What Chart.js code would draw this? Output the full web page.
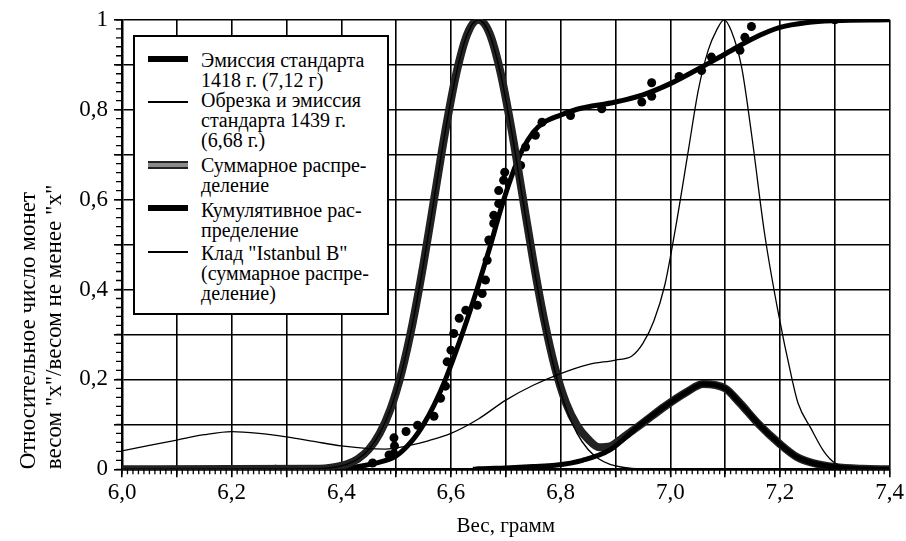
<!DOCTYPE html>
<html><head><meta charset="utf-8">
<script src="https://cdn.jsdelivr.net/npm/chart.js@4.4.1/dist/chart.umd.min.js"></script>
<style>
html,body{margin:0;padding:0;background:#fff;}
#wrap{position:relative;width:906px;height:541px;}
#legend{position:absolute;left:133px;top:35px;width:252px;height:276px;border:2px solid #000;background:#fff;font-family:"Liberation Serif","Tinos","Times New Roman","DejaVu Serif",serif;font-size:20px;line-height:20px;color:#000;}
.sw{position:absolute;left:13px;width:40px;}
.tx{position:absolute;left:66px;white-space:pre;}
</style></head>
<body><div id="wrap"><canvas id="c" width="906" height="541"></canvas><div id="legend"></div></div>
<script>
// ---- data ----
const legendLabels = [
  "Эмиссия стандарта\n1418 г. (7,12 г)",
  "Обрезка и эмиссия\nстандарта 1439 г.\n(6,68 г.)",
  "Суммарное распре-\nделение",
  "Кумулятивное рас-\nпределение",
  "Клад \"Istanbul B\"\n(суммарное распре-\nделение)"
];
const xTitle = "Вес, грамм";
const yTitle = ["Относительное число монет", "весом \"x\"/весом не менее \"x\""];

// Emission of standard 1418 (7,12 g)
const emis1418X = [6.64, 6.65, 6.70, 6.75, 6.79, 6.84, 6.89, 6.94, 6.99, 7.03, 7.06, 7.10, 7.125, 7.16, 7.20, 7.23, 7.26, 7.30, 7.35, 7.40];
const emis1418Y = [0, 0.001, 0.003, 0.006, 0.009, 0.02, 0.043, 0.094, 0.14, 0.172, 0.19, 0.18, 0.15, 0.102, 0.056, 0.028, 0.014, 0.005, 0.001, 0];

// Cut & emission of standard 1439 (6,68 g)
const emis1439X = [6.0, 6.35, 6.37, 6.39, 6.41, 6.43, 6.45, 6.47, 6.49, 6.51, 6.53, 6.55, 6.57, 6.59, 6.61, 6.63, 6.65, 6.67, 6.69, 6.71, 6.73, 6.75, 6.77, 6.79, 6.81, 6.83, 6.85, 6.87, 6.89, 6.91, 6.93, 6.95, 7.0, 7.4];
const emis1439Y = [0, 0.001, 0.002, 0.005, 0.011, 0.023, 0.044, 0.08, 0.135, 0.216, 0.325, 0.458, 0.607, 0.755, 0.882, 0.969, 1.0, 0.969, 0.882, 0.755, 0.607, 0.458, 0.325, 0.216, 0.135, 0.08, 0.044, 0.023, 0.011, 0.005, 0.002, 0.001, 0, 0];

// Summary distribution
const sumX = [6.0, 6.35, 6.37, 6.39, 6.41, 6.43, 6.45, 6.47, 6.49, 6.51, 6.53, 6.55, 6.57, 6.59, 6.61, 6.63, 6.65, 6.67, 6.69, 6.71, 6.73, 6.75, 6.77, 6.79, 6.81, 6.83, 6.85, 6.87, 6.89, 6.91, 6.93, 6.95, 6.99, 7.03, 7.06, 7.10, 7.125, 7.16, 7.20, 7.23, 7.26, 7.30, 7.35, 7.40];
const sumY = [0, 0.001, 0.002, 0.005, 0.011, 0.023, 0.044, 0.08, 0.135, 0.216, 0.325, 0.458, 0.607, 0.755, 0.882, 0.969, 1.0, 0.971, 0.885, 0.759, 0.612, 0.464, 0.332, 0.225, 0.147, 0.097, 0.067, 0.049, 0.051, 0.067, 0.085, 0.103, 0.14, 0.172, 0.19, 0.18, 0.15, 0.102, 0.056, 0.028, 0.014, 0.005, 0.001, 0];

// Cumulative distribution (fitted curve)
const cumX = [6.38, 6.42, 6.46, 6.50, 6.53, 6.55, 6.57, 6.59, 6.61, 6.63, 6.65, 6.67, 6.69, 6.71, 6.73, 6.75, 6.77, 6.80, 6.83, 6.90, 6.95, 7.00, 7.05, 7.10, 7.15, 7.20, 7.25, 7.30, 7.40];
const cumY = [0, 0.004, 0.013, 0.03, 0.065, 0.1, 0.145, 0.2, 0.265, 0.335, 0.41, 0.49, 0.575, 0.65, 0.71, 0.75, 0.772, 0.788, 0.801, 0.817, 0.833, 0.858, 0.89, 0.924, 0.958, 0.983, 0.994, 0.998, 1.0];

// Cumulative distribution (observed coins)
const dotX = [6.28, 6.457, 6.487, 6.496, 6.496, 6.497, 6.518, 6.539, 6.569, 6.581, 6.59, 6.593, 6.60, 6.605, 6.615, 6.627, 6.648, 6.657, 6.663, 6.666, 6.669, 6.678, 6.678, 6.687, 6.687, 6.696, 6.698, 6.727, 6.736, 6.754, 6.766, 6.818, 6.875, 6.948, 6.966, 6.966, 7.016, 7.057, 7.075, 7.127, 7.136, 7.148, 7.30];
const dotY = [0, 0.014, 0.032, 0.035, 0.07, 0.052, 0.084, 0.098, 0.118, 0.158, 0.185, 0.239, 0.265, 0.302, 0.336, 0.354, 0.365, 0.391, 0.421, 0.465, 0.51, 0.547, 0.565, 0.591, 0.62, 0.643, 0.661, 0.676, 0.717, 0.743, 0.772, 0.787, 0.802, 0.817, 0.83, 0.86, 0.874, 0.887, 0.917, 0.932, 0.961, 0.985, 1.0];

// Hoard "Istanbul B"
const istX = [6.00, 6.05, 6.10, 6.15, 6.20, 6.25, 6.30, 6.35, 6.40, 6.45, 6.48, 6.52, 6.56, 6.60, 6.65, 6.70, 6.75, 6.80, 6.85, 6.90, 6.93, 6.95, 6.97, 6.99, 7.01, 7.033, 7.051, 7.069, 7.084, 7.098, 7.111, 7.13, 7.148, 7.172, 7.196, 7.221, 7.233, 7.257, 7.28, 7.30, 7.33, 7.36, 7.40];
const istY = [0.041, 0.053, 0.065, 0.077, 0.084, 0.08, 0.072, 0.062, 0.052, 0.046, 0.045, 0.052, 0.064, 0.08, 0.112, 0.154, 0.187, 0.213, 0.233, 0.243, 0.252, 0.28, 0.33, 0.41, 0.54, 0.71, 0.843, 0.932, 0.976, 1.0, 0.976, 0.895, 0.747, 0.524, 0.354, 0.206, 0.147, 0.09, 0.04, 0.014, 0.002, 0, 0];

const pts = (xs, ys) => xs.map((x, i) => ({x: x, y: ys[i]}));
const FONT = "'Liberation Serif', Tinos, 'Times New Roman', 'DejaVu Serif', serif";

const lineBase = {type: 'line', pointRadius: 0, cubicInterpolationMode: 'monotone', fill: false};

const datasets = [
  Object.assign({}, lineBase, {label: legendLabels[4], data: pts(istX, istY), borderColor: '#000', borderWidth: 1.3}),
  Object.assign({}, lineBase, {label: legendLabels[1], data: pts(emis1439X, emis1439Y), borderColor: '#000', borderWidth: 1.4}),
  Object.assign({}, lineBase, {label: legendLabels[0], data: pts(emis1418X, emis1418Y), borderColor: '#000', borderWidth: 5}),
  Object.assign({}, lineBase, {label: legendLabels[2], data: pts(sumX, sumY), borderColor: '#222', borderWidth: 8}),
  Object.assign({}, lineBase, {label: '', data: pts(sumX, sumY), borderColor: '#8a8a8a', borderWidth: 4}),
  Object.assign({}, lineBase, {label: legendLabels[3], data: pts(cumX, cumY), borderColor: '#000', borderWidth: 5}),
  {type: 'scatter', label: '', data: pts(dotX, dotY), showLine: false, pointRadius: 4.5, pointBackgroundColor: '#000', pointBorderColor: '#000', pointBorderWidth: 0}
];

const minorTicks = {
  id: 'minorTicks',
  afterDraw(chart) {
    const ctx = chart.ctx, xs = chart.scales.x, ys = chart.scales.y;
    const a = chart.chartArea;
    ctx.save();
    ctx.strokeStyle = '#000';
    ctx.lineWidth = 1.3;
    ctx.beginPath();
    for (let i = 0; i <= 140; i++) {
      const px = xs.getPixelForValue(6 + i / 100);
      ctx.moveTo(px, a.bottom); ctx.lineTo(px, a.bottom + 5);
    }
    for (let i = 0; i <= 50; i++) {
      const py = ys.getPixelForValue(i / 50);
      ctx.moveTo(a.left - 6, py); ctx.lineTo(a.left, py);
    }
    ctx.stroke();
    ctx.restore();
  }
};

new Chart(document.getElementById('c'), {
  data: {datasets: datasets},
  options: {
    responsive: false,
    animation: false,
    layout: {padding: {top: 19, right: 14, left: 14, bottom: 0}},
    plugins: {legend: {display: false}, tooltip: {enabled: false}},
    scales: {
      x: {
        type: 'linear', min: 6, max: 7.4,
        afterFit(s) { s.height = 71.7; },
        border: {color: '#000', width: 2.5},
        grid: {color: '#000', lineWidth: 1.6, tickLength: 8, tickColor: '#000'},
        ticks: {
          stepSize: 0.1, autoSkip: false, maxRotation: 0, color: '#000', padding: 2,
          font: {family: FONT, size: 23},
          callback(v) { const k = Math.round(v * 10); return k % 2 ? '' : (k / 10).toFixed(1).replace('.', ','); }
        },
        title: {display: true, text: xTitle, color: '#000', font: {family: FONT, size: 21}, padding: {top: 2, bottom: 2}}
      },
      y: {
        type: 'linear', min: 0, max: 1,
        afterFit(s) { s.width = 108; },
        border: {color: '#000', width: 2.5},
        grid: {color: '#000', lineWidth: 1.6, tickLength: 8, tickColor: '#000'},
        ticks: {
          stepSize: 0.1, autoSkip: false, color: '#000', padding: 6,
          font: {family: FONT, size: 23},
          callback(v) { const k = Math.round(v * 10); if (k % 2) return ''; if (k === 0) return '0'; if (k === 10) return '1'; return '0,' + k; }
        },
        title: {display: true, align: 'start', text: yTitle, color: '#000', font: {family: FONT, size: 23, lineHeight: 1.12}, padding: {top: 2, bottom: 4}}
      }
    }
  },
  plugins: [minorTicks]
});

// HTML legend built from the dataset styles
const legendOrder = [
  {ds: 2, sw: 'height:6px;background:#000;', swTop: 19, txTop: 13},
  {ds: 1, sw: 'height:2px;background:#000;', swTop: 64, txTop: 53},
  {ds: 3, sw: 'height:4px;background:#8a8a8a;border-top:2px solid #222;border-bottom:2px solid #222;', swTop: 124, txTop: 118},
  {ds: 5, sw: 'height:6px;background:#000;', swTop: 168, txTop: 163},
  {ds: 0, sw: 'height:2px;background:#000;', swTop: 214, txTop: 206}
];
const leg = document.getElementById('legend');
legendOrder.forEach(o => {
  const s = document.createElement('div'); s.className = 'sw'; s.style.cssText += o.sw; s.style.top = o.swTop + 'px'; leg.appendChild(s);
  const t = document.createElement('div'); t.className = 'tx'; t.style.top = o.txTop + 'px'; t.textContent = datasets[o.ds].label; leg.appendChild(t);
});
</script>
</body></html>
